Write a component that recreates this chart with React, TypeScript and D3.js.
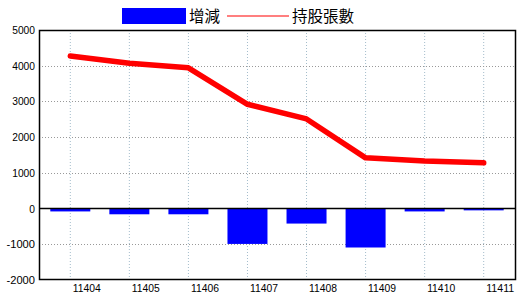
import React from "react";
import * as d3 from "d3";

const categories = ["11404", "11405", "11406", "11407", "11408", "11409", "11410", "11411"];
const changeValues = [-80, -160, -160, -990, -420, -1090, -80, -50];
const holdingValues = [4270, 4070, 3940, 2920, 2510, 1420, 1330, 1280];
const yTicks = [5000, 4000, 3000, 2000, 1000, 0, -1000, -2000];
const legendBar = "增減";
const legendLine = "持股張數";

const W = 520, H = 300;
const left = 39, right = 516, top = 30, bottom = 280;

export default function App() {
  const x = d3.scalePoint<string>().domain(categories).range([70.3, 483.7]);
  const y = d3.scaleLinear().domain([-2000, 5000]).range([bottom, top]);
  const barW = 40;
  const line = d3.line<number>().x((_, i) => x(categories[i])!).y((d) => y(d));
  const font = "'Liberation Sans', Arial, sans-serif";
  return (
    <svg width={W} height={H} style={{ position: "absolute", left: 0, top: 0, background: "#fff" }}>
      <rect x={0} y={0} width={W} height={H} fill="#fff" />
      {categories.map((c) => (
        <line key={"vg" + c} x1={x(c)} x2={x(c)} y1={top} y2={bottom} stroke="#a3bccb" strokeDasharray="1,2" />
      ))}
      {yTicks.filter((t) => t !== 0 && t !== 5000 && t !== -2000).map((t) => (
        <line key={"hg" + t} x1={left} x2={right} y1={Math.round(y(t)) + 0.5} y2={Math.round(y(t)) + 0.5} stroke="#999" strokeDasharray="1,2" />
      ))}
      {changeValues.map((v, i) => (
        <rect key={"b" + i} x={x(categories[i])! - barW / 2} y={y(Math.max(0, v))} width={barW}
          height={Math.abs(y(v) - y(0))} fill="#0000ff" />
      ))}
      <line x1={left} x2={right} y1={y(0)} y2={y(0)} stroke="#000" strokeWidth={1.5} />
      <path d={line(holdingValues)!} fill="none" stroke="#ff0000" strokeWidth={5.5} strokeLinejoin="round" strokeLinecap="round" />
      <rect x={left + 0.5} y={top + 0.5} width={right - left - 1} height={bottom - top - 1} fill="none" stroke="#000" strokeWidth={1.5} />
      {yTicks.map((t) => {
        const s = String(t);
        return (
          <text key={"yt" + t} x={35} y={y(t) + 1} textAnchor="end" dominantBaseline="middle" fontFamily={font} fontSize={11.5}
            textLength={s.length * 5.7} lengthAdjust="spacingAndGlyphs" fill="#000">
            {s}
          </text>
        );
      })}
      {categories.map((c) => (
        <text key={"xt" + c} x={x(c)! + 16.5} y={292} textAnchor="middle" fontFamily={font} fontSize={11.5}
          textLength={c.length * 5.6} lengthAdjust="spacingAndGlyphs" fill="#000">
          {c}
        </text>
      ))}
      <rect x={122} y={8} width={64} height={16} fill="#0000ff" />
      <text x={189} y={22} fontFamily="'Noto Sans CJK TC', sans-serif" fontSize={15.5} fill="#000">{legendBar}</text>
      <line x1={227} x2={289} y1={16} y2={16} stroke="#ff0000" strokeWidth={1.2} />
      <text x={292} y={22} fontFamily="'Noto Sans CJK TC', sans-serif" fontSize={15.5} fill="#000">{legendLine}</text>
    </svg>
  );
}
